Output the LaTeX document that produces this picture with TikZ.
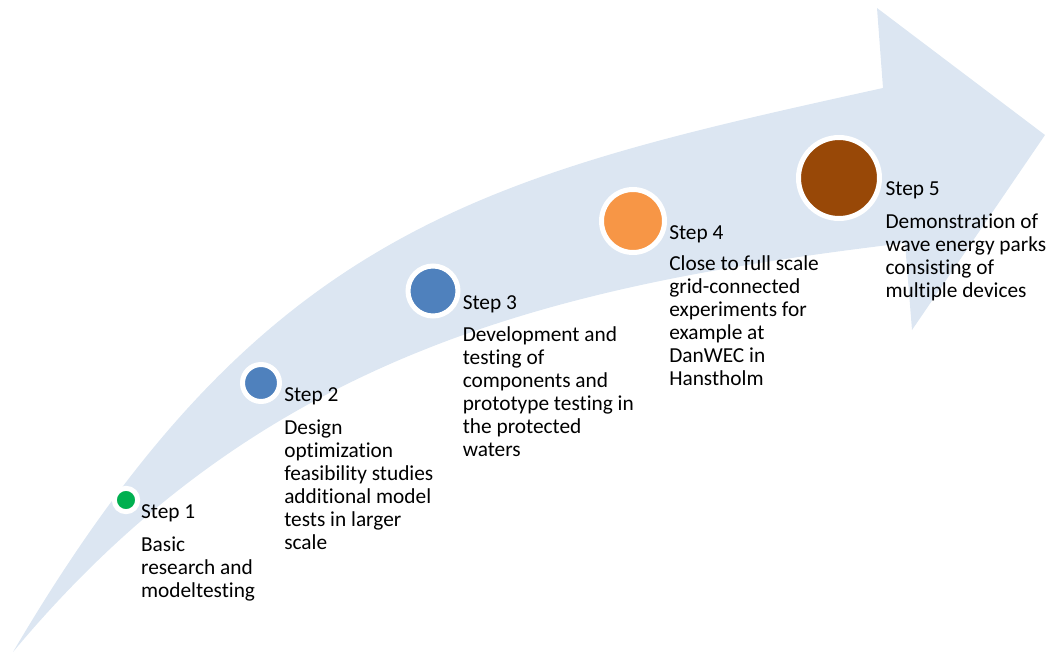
\documentclass[tikz,border=0pt]{standalone}
\usepackage{fontspec}
\setmainfont{Carlito}[Ligatures=NoCommon]
\usepackage{tikz}

\definecolor{bandblue}{HTML}{DCE6F2}
\definecolor{stepgreen}{HTML}{00B050}
\definecolor{stepblue}{HTML}{4F81BD}
\definecolor{steporange}{HTML}{F79646}
\definecolor{stepbrown}{HTML}{984807}

\tikzset{
  stepdot/.style={circle, draw=white, line width=3.75pt, inner sep=0pt},
  steptitle/.style={anchor=base west, inner sep=0pt, font=\fontsize{16}{17.25}\selectfont},
  stepdesc/.style={anchor=base west, inner sep=0pt, align=left, font=\fontsize{16}{17.25}\selectfont}
}

\begin{document}
\begin{tikzpicture}[x=0.75pt,y=-0.75pt]
      \useasboundingbox (0,0) rectangle (1047,653);

      % the curved arrow
      \fill[bandblue] (13,652) .. controls (263,227) and (483,176) .. (883,88)
        -- (877,8) -- (1045,135) -- (912,330) -- (905,243)
        .. controls (555,285) and (263,352) .. (13,652) -- cycle;

      % base of a description = its last line, so shift = gap + (lines-1)*17.25pt
      \node[stepdot, fill=stepgreen, minimum size=17.5pt] (c1) at (126,500) {};
      \node[steptitle] (t1) at ([xshift=0.5pt,yshift=-13.5pt]c1.east) {Step 1};
      \node[stepdesc] (d1) at ([yshift=-59.25pt]t1.base west) {Basic\\research and\\modeltesting};

      \node[stepdot, fill=stepblue, minimum size=27.75pt] (c2) at (261,383) {};
      \node[steptitle] (t2) at ([xshift=1.5pt,yshift=-13.5pt]c2.east) {Step 2};
      \node[stepdesc] (d2) at ([yshift=-111pt]t2.base west) {Design\\optimization\\feasibility studies\\additional model\\tests in larger\\scale};

      \node[stepdot, fill=stepblue, minimum size=37.5pt] (c3) at (433,291) {};
      \node[steptitle] (t3) at ([xshift=1.5pt,yshift=-13.5pt]c3.east) {Step 3};
      \node[stepdesc] (d3) at ([yshift=-110.25pt]t3.base west) {Development and\\testing of\\components and\\prototype testing in\\the protected\\waters};

      \node[stepdot, fill=steporange, minimum size=47.25pt] (c4) at (633,221) {};
      \node[steptitle] (t4) at ([xshift=1.5pt,yshift=-13.5pt]c4.east) {Step 4};
      \node[stepdesc] (d4) at ([yshift=-109.75pt]t4.base west) {Close to full scale\\grid-connected\\experiments for\\example at\\DanWEC in\\Hanstholm};

      \node[stepdot, fill=stepbrown, minimum size=60.75pt] (c5) at (839,178) {};
      \node[steptitle] (t5) at ([xshift=2.5pt,yshift=-12.75pt]c5.east) {Step 5};
      \node[stepdesc] (d5) at ([yshift=-76.5pt]t5.base west) {Demonstration of\\wave energy parks\\consisting of\\multiple devices};
\end{tikzpicture}
\end{document}
